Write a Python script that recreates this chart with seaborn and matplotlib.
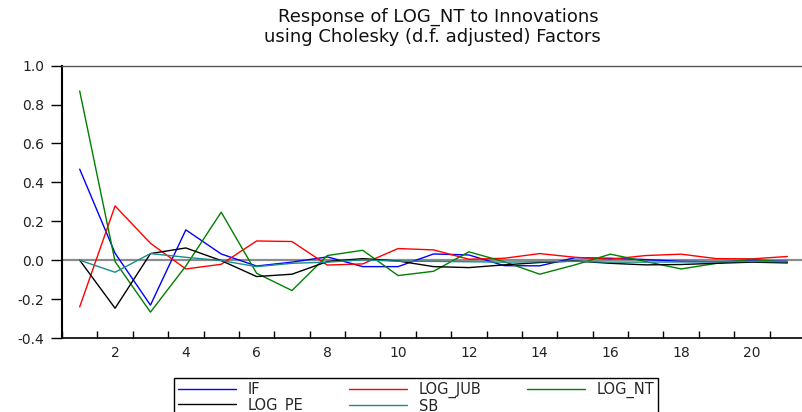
import numpy as np
import pandas as pd
import matplotlib
matplotlib.use("Agg")
import matplotlib.pyplot as plt
import seaborn as sns

periods = list(range(1, 22))
series_names = ["IF", "LOG_JUB", "LOG_NT", "LOG_PE", "SB"]

if_vals = [0.468, 0.036, -0.231, 0.156, 0.032, -0.030, -0.010, 0.017, -0.033, -0.033,
           0.032, 0.027, -0.028, -0.029, 0.013, 0.010, 0.003, -0.006, -0.008, -0.004, -0.006]
log_jub = [-0.240, 0.279, 0.087, -0.045, -0.021, 0.099, 0.096, -0.025, -0.019, 0.060,
           0.053, 0.005, 0.010, 0.034, 0.015, 0.005, 0.024, 0.031, 0.008, 0.007, 0.019]
log_nt = [0.870, -0.007, -0.267, -0.030, 0.247, -0.067, -0.156, 0.024, 0.051, -0.079,
          -0.057, 0.043, -0.008, -0.072, -0.024, 0.031, -0.007, -0.045, -0.016, 0.005, -0.012]
log_pe = [0.000, -0.247, 0.034, 0.063, -0.002, -0.084, -0.072, -0.007, 0.008, -0.004,
          -0.033, -0.038, -0.024, -0.012, -0.004, -0.016, -0.024, -0.022, -0.016, -0.010, -0.014]
sb = [0.000, -0.062, 0.034, 0.015, -0.002, -0.033, -0.016, -0.010, 0.002, -0.005,
      -0.006, -0.008, -0.010, -0.008, -0.006, -0.010, -0.010, -0.009, -0.008, -0.006, -0.008]

x_tick_values = list(range(2, 21, 2))
y_tick_values = [-0.4, -0.2, 0.0, 0.2, 0.4, 0.6, 0.8, 1.0]
y_tick_labels = ["-0.4", "-0.2", "0.0", "0.2", "0.4", "0.6", "0.8", "1.0"]

title1 = "Response of LOG_NT to Innovations"
title2 = "using Cholesky (d.f. adjusted) Factors"

palette = {"IF": "#0000ff", "LOG_JUB": "#ff0000", "LOG_NT": "#008000",
           "LOG_PE": "#000000", "SB": "#1a8c8c"}

values = {"IF": if_vals, "LOG_JUB": log_jub, "LOG_NT": log_nt, "LOG_PE": log_pe, "SB": sb}
df = pd.concat([pd.DataFrame({"Period": periods, "Response": v, "Shock": k})
                for k, v in values.items()], ignore_index=True)

sns.set_style("white")
plt.rcParams["font.family"] = ["DejaVu Sans"]

W, H = 803, 412
fig = plt.figure(figsize=(W / 100, H / 100), dpi=100)
ax = fig.add_axes([62 / W, 1 - 338 / H, 743 / W, (338 - 65.7) / H])

sns.lineplot(data=df, x="Period", y="Response", hue="Shock", hue_order=series_names,
             palette=palette, linewidth=1.0, ax=ax, legend=False)
handles = list(ax.get_lines())
ax.axhline(0, color="#8c8c8c", lw=1.6, zorder=1.5)

ax.set_xlim(0.5, 21.5)
ax.set_ylim(-0.4, 1.0)
ax.set_xticks(x_tick_values)
ax.set_xticklabels([str(v) for v in x_tick_values])
ax.set_xticks(np.arange(0.5, 21.6, 1.0), minor=True)
ax.tick_params(axis="x", which="major", length=0, pad=6, labelsize=10, colors="#222222")
ax.tick_params(axis="x", which="minor", direction="in", length=5, width=1, color="black", bottom=True)
ax.set_yticks(y_tick_values)
ax.set_yticklabels(y_tick_labels)
ax.tick_params(axis="y", direction="out", length=8, width=1, pad=5, labelsize=10,
               color="black", labelcolor="#222222", left=True)
ax.set_xlabel("")
ax.set_ylabel("")

ax.spines["left"].set_color("black")
ax.spines["left"].set_linewidth(1.5)
ax.spines["bottom"].set_color("black")
ax.spines["bottom"].set_linewidth(1.2)
ax.spines["top"].set_color("#555555")
ax.spines["top"].set_linewidth(1.0)
ax.spines["right"].set_color("#555555")

fig.text(438 / W, 1 - 21.5 / H, title1, ha="center", va="baseline", fontsize=13, color="#111111")
fig.text(432.5 / W, 1 - 42.5 / H, title2, ha="center", va="baseline", fontsize=13, color="#111111")

order = ["IF", "LOG_PE", "LOG_JUB", "SB", "LOG_NT"]
hmap = dict(zip(series_names, handles))
leg = ax.legend([hmap[n] for n in order], order, ncol=3, loc="upper left",
                bbox_to_anchor=(174 / W, 1 - 378 / H), bbox_transform=fig.transFigure,
                fontsize=10.5, frameon=True, fancybox=False, framealpha=1,
                edgecolor="black", borderpad=0.25, handlelength=4.0, handletextpad=0.8,
                columnspacing=3.1, labelspacing=0.05, borderaxespad=0)
leg.get_frame().set_linewidth(1.0)

fig.savefig("out.png", dpi=100)
